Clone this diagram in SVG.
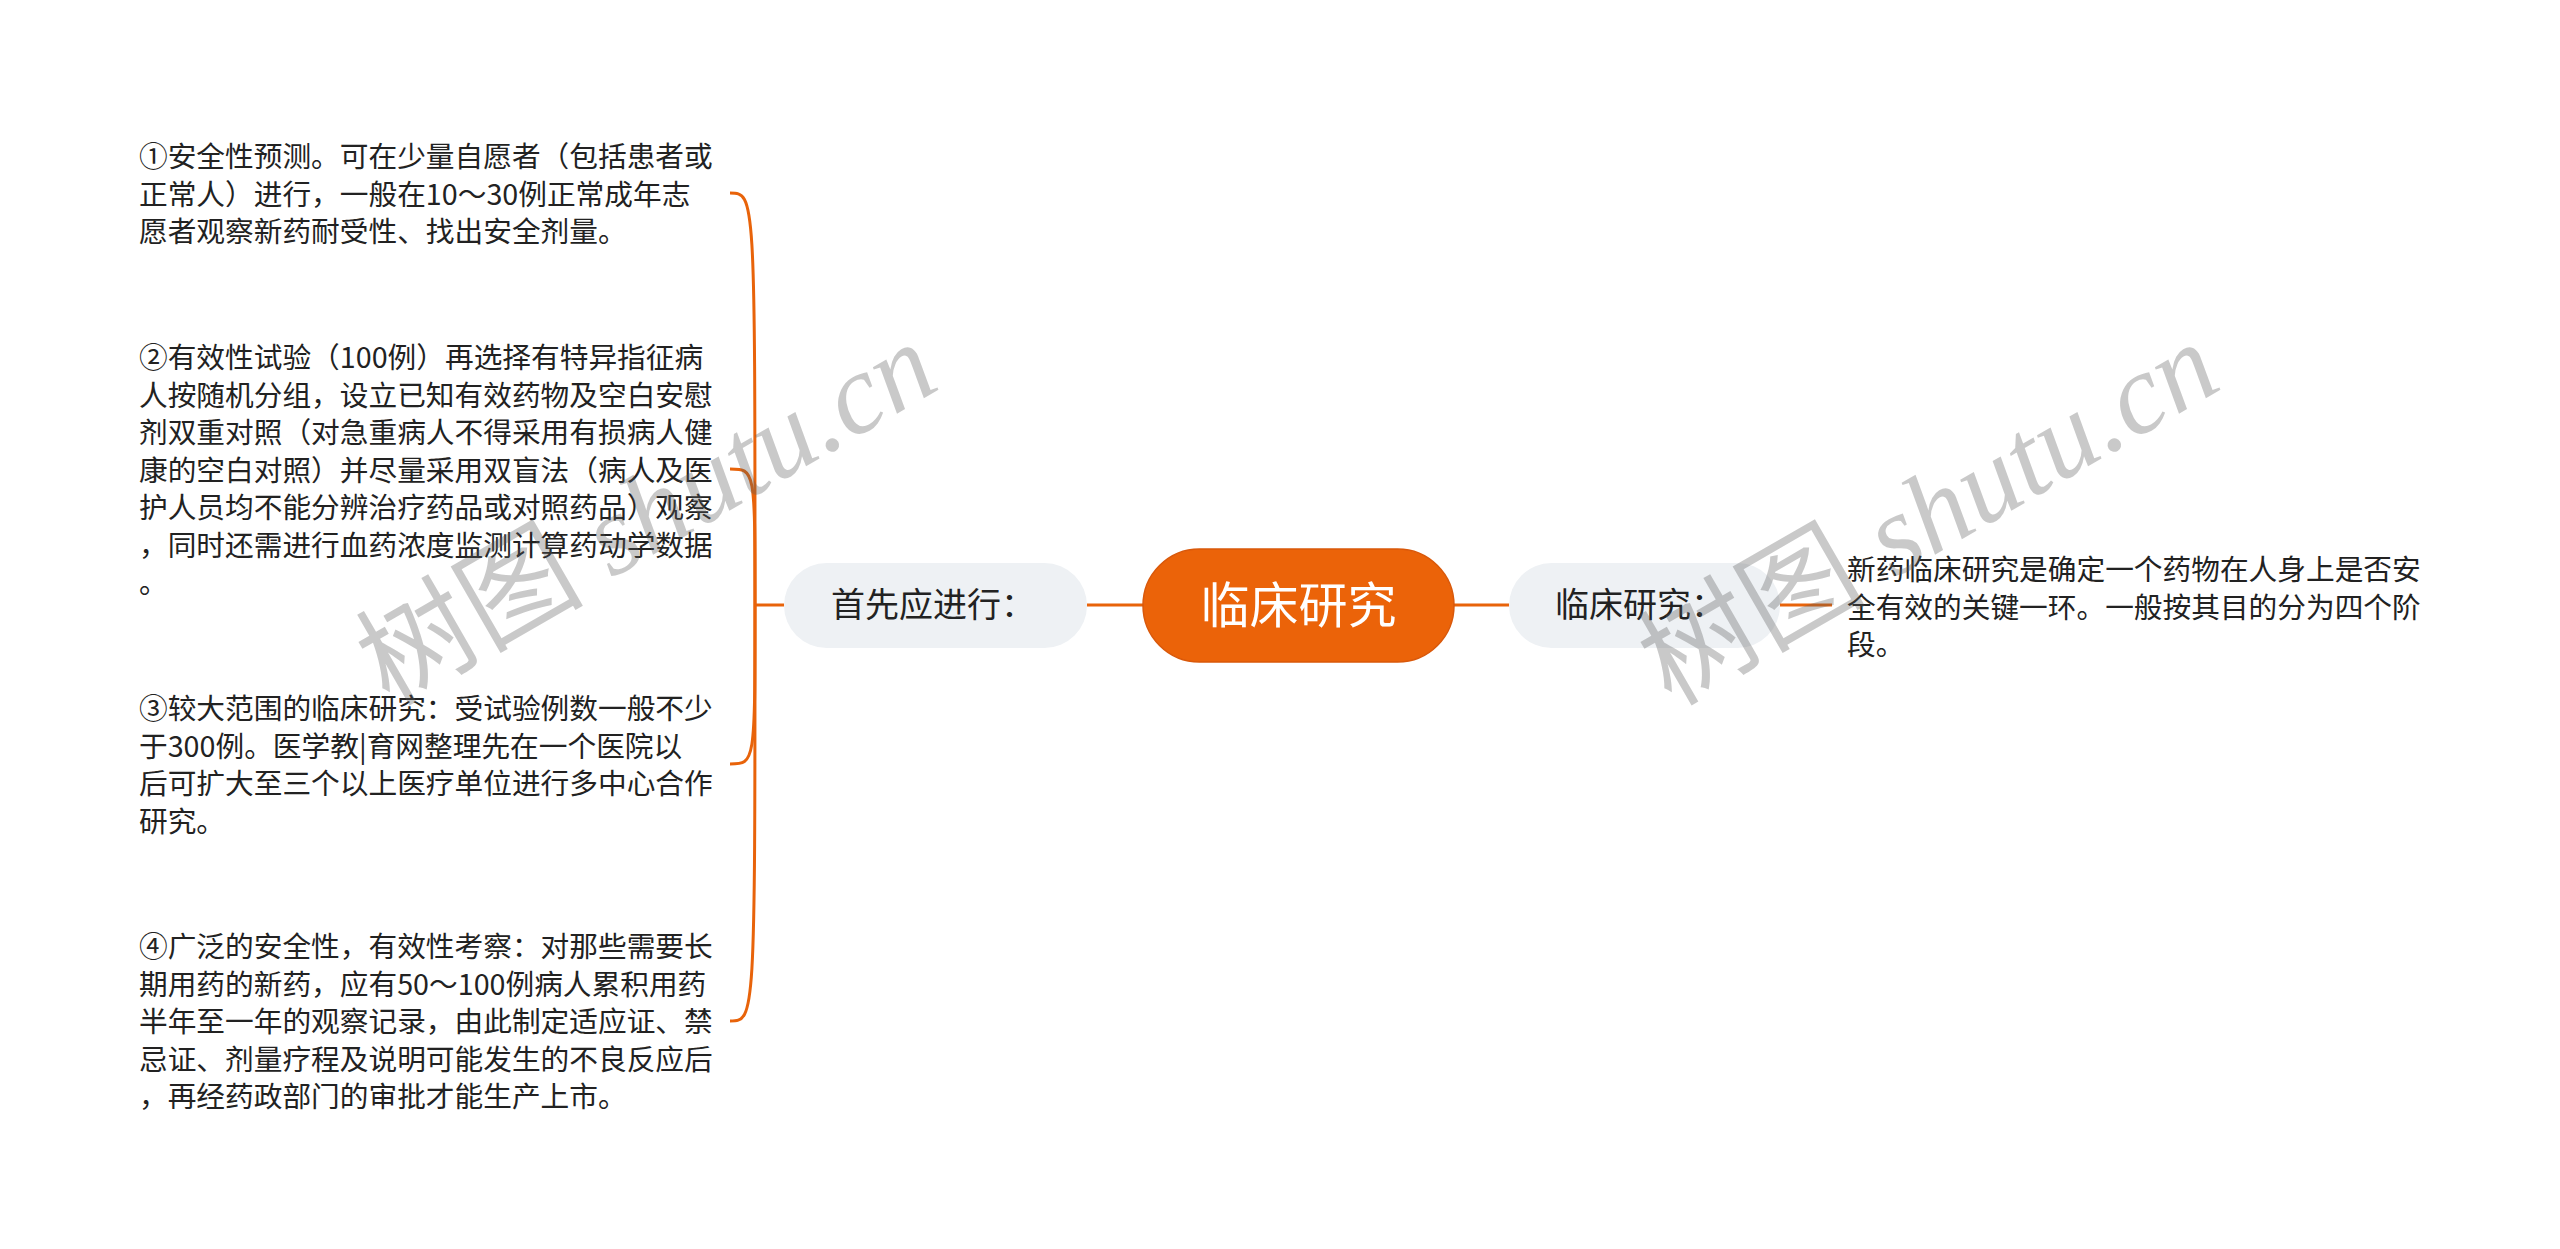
<svg xmlns="http://www.w3.org/2000/svg" width="2560" height="1249" viewBox="0 0 2560 1249">
<style>
.t{font-family:"Noto Sans CJK SC","Liberation Sans",sans-serif;font-size:28.7px;fill:#222}
.pl{font-family:"Noto Sans CJK SC","Liberation Sans",sans-serif;font-size:34px;fill:#222;text-anchor:middle}
.c{font-family:"Noto Sans CJK SC","Liberation Sans",sans-serif;font-size:49px;fill:#fff;text-anchor:middle}
.ln{fill:none;stroke:#e8630a;stroke-width:3}
.wm{font-family:"Liberation Serif","Noto Sans CJK SC",serif;font-size:114px;fill:#5a5a5a;fill-opacity:0.33}
</style>
<rect width="2560" height="1249" fill="#fff"/>
<g id="connectors">
<path class="ln" d="M1087,605 H1143"/>
<path class="ln" d="M1453,605 H1509"/>
<path class="ln" d="M1780,605 H1832"/>
<path class="ln" d="M784,605 H755"/>
<path class="ln" d="M755,605 C755,193 755,193 730,193"/>
<path class="ln" d="M755,605 C755,469 755,469 730,469"/>
<path class="ln" d="M755,605 C755,764 755,764 730,764"/>
<path class="ln" d="M755,605 C755,1021 755,1021 730,1021"/>
</g>
<g id="center">
<rect x="1143" y="549" width="311" height="113" rx="56.5" fill="#eb6309" stroke="#d9580a" stroke-width="1.5"/>
<text class="c" x="1298.5" y="623">临床研究</text>
</g>
<g id="left-branch">
<rect x="784" y="563" width="303" height="85" rx="42.5" fill="#eef1f4"/>
<text class="pl" x="933" y="617">首先应进行：</text>
</g>
<g id="right-branch">
<rect x="1509" y="563" width="271" height="85" rx="42.5" fill="#eef1f4"/>
<text class="pl" x="1640" y="617">临床研究：</text>
</g>
<g id="right-text">
<text class="t" x="1847" y="580">新药临床研究是确定一个药物在人身上是否安</text>
<text class="t" x="1847" y="617.5">全有效的关键一环。一般按其目的分为四个阶</text>
<text class="t" x="1847" y="655">段。</text>
</g>
<g id="item1">
<text class="t" x="139" y="167">①安全性预测。可在少量自愿者（包括患者或</text>
<text class="t" x="139" y="204.5">正常人）进行，一般在10～30例正常成年志</text>
<text class="t" x="139" y="242">愿者观察新药耐受性、找出安全剂量。</text>
</g>
<g id="item2">
<text class="t" x="139" y="368">②有效性试验（100例）再选择有特异指征病</text>
<text class="t" x="139" y="405.5">人按随机分组，设立已知有效药物及空白安慰</text>
<text class="t" x="139" y="443">剂双重对照（对急重病人不得采用有损病人健</text>
<text class="t" x="139" y="480.5">康的空白对照）并尽量采用双盲法（病人及医</text>
<text class="t" x="139" y="518">护人员均不能分辨治疗药品或对照药品）观察</text>
<text class="t" x="139" y="555.5">，同时还需进行血药浓度监测计算药动学数据</text>
<text class="t" x="139" y="593">。</text>
</g>
<g id="item3">
<text class="t" x="139" y="719">③较大范围的临床研究：受试验例数一般不少</text>
<text class="t" x="139" y="756.5">于300例。医学教|育网整理先在一个医院以</text>
<text class="t" x="139" y="794">后可扩大至三个以上医疗单位进行多中心合作</text>
<text class="t" x="139" y="831.5">研究。</text>
</g>
<g id="item4">
<text class="t" x="139" y="957">④广泛的安全性，有效性考察：对那些需要长</text>
<text class="t" x="139" y="994.5">期用药的新药，应有50～100例病人累积用药</text>
<text class="t" x="139" y="1032">半年至一年的观察记录，由此制定适应证、禁</text>
<text class="t" x="139" y="1069.5">忌证、剂量疗程及说明可能发生的不良反应后</text>
<text class="t" x="139" y="1107">，再经药政部门的审批才能生产上市。</text>
</g>
<g id="watermarks">
<text class="wm" x="648" y="552" text-anchor="middle" transform="rotate(-30 648 516)">树图 <tspan font-style="italic">shutu.cn</tspan></text>
<text class="wm" x="1930" y="552" text-anchor="middle" transform="rotate(-30 1930 516)">树图 <tspan font-style="italic">shutu.cn</tspan></text>
</g>
</svg>
